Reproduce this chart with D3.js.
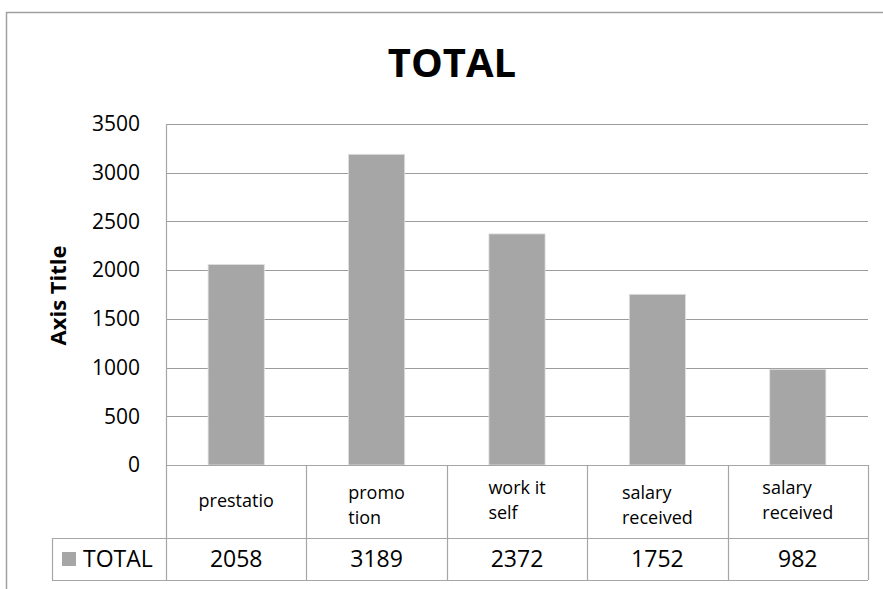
<!DOCTYPE html>
<html>
<head>
<meta charset="utf-8">
<script src="https://cdn.jsdelivr.net/npm/d3@7"></script>
<style>
  html, body { margin: 0; padding: 0; background: #fff; }
  svg { display: block; font-family: "Open Sans", sans-serif; }
</style>
</head>
<body>
<div id="chart"></div>
<script>
// chart data
var categoryLines = [["prestatio"], ["promo", "tion"], ["work it", "self"], ["salary", "received"], ["salary", "received"]];
var totals = [2058, 3189, 2372, 1752, 982];
var yTicks = [0, 500, 1000, 1500, 2000, 2500, 3000, 3500];
var seriesName = "TOTAL";

var W = 883, H = 589;
var plot = {left: 166, right: 868, top: 124, bottom: 465};
var rowBottom = 538, tableBottom = 580, legendLeft = 52;
var lineColor = "#a6a6a6", gridColor = "#9c9c9c", barColor = "#a6a6a6";
var labelShift = [0, 5, 0, 5, 0];

var svg = d3.select("#chart").append("svg")
    .attr("width", W)
    .attr("height", H);

// outer chart frame (top + left edges visible)
svg.append("path")
    .attr("d", "M6.5," + H + "V12.5H" + W)
    .attr("fill", "none")
    .attr("stroke", "#a0a0a0")
    .attr("stroke-width", 1.5);

svg.append("text")
    .attr("x", 452)
    .attr("y", 77)
    .attr("text-anchor", "middle")
    .style("font-size", "40px")
    .style("font-weight", "bold")
    .text("TOTAL");

var x = d3.scaleBand()
    .domain(d3.range(totals.length))
    .range([plot.left, plot.right])
    .padding(0);

var y = d3.scaleLinear()
    .domain([0, 3500])
    .range([plot.bottom, plot.top]);

// gridlines
svg.append("g")
    .selectAll("line")
    .data(yTicks)
    .join("line")
    .attr("x1", plot.left)
    .attr("x2", plot.right)
    .attr("y1", d => Math.round(y(d)) + 0.5)
    .attr("y2", d => Math.round(y(d)) + 0.5)
    .attr("stroke", gridColor)
    .attr("stroke-width", 1.2);

// y axis labels
var yAxis = svg.append("g")
    .attr("transform", "translate(" + plot.left + ",0)")
    .call(d3.axisLeft(y).tickValues(yTicks).tickFormat(d3.format("d")).tickSize(0).tickPadding(26));
yAxis.select(".domain").remove();
yAxis.selectAll("text")
    .style("font-family", "'Open Sans', sans-serif")
    .style("font-size", "21px")
    .attr("fill", "#000");

svg.append("text")
    .attr("transform", "translate(66," + ((plot.top + plot.bottom) / 2 + 1) + ") rotate(-90)")
    .attr("text-anchor", "middle")
    .style("font-size", "22px")
    .style("font-weight", "bold")
    .text("Axis Title");

// bars
svg.append("g")
    .selectAll("rect")
    .data(totals)
    .join("rect")
    .attr("x", (d, i) => x(i) + x.bandwidth() * 0.3)
    .attr("width", x.bandwidth() * 0.4)
    .attr("y", d => y(d))
    .attr("height", d => y(0) - y(d))
    .attr("fill", barColor)
    .attr("stroke", "#e0e0e0")
    .attr("stroke-width", 0.8);

// data table
var table = svg.append("g")
    .attr("stroke", lineColor)
    .attr("stroke-width", 1.2)
    .attr("fill", "none");

table.append("line").attr("x1", plot.left).attr("x2", plot.right).attr("y1", plot.bottom + 0.5).attr("y2", plot.bottom + 0.5);
table.append("line").attr("x1", legendLeft).attr("x2", plot.right).attr("y1", rowBottom + 0.5).attr("y2", rowBottom + 0.5);
table.append("line").attr("x1", legendLeft).attr("x2", plot.right).attr("y1", tableBottom + 0.5).attr("y2", tableBottom + 0.5);
table.append("line").attr("x1", plot.left + 0.5).attr("x2", plot.left + 0.5).attr("y1", plot.top).attr("y2", tableBottom);
table.append("line").attr("x1", legendLeft + 0.5).attr("x2", legendLeft + 0.5).attr("y1", rowBottom).attr("y2", tableBottom);
table.selectAll(".col")
    .data(d3.range(1, totals.length + 1))
    .join("line")
    .attr("x1", i => Math.round(plot.left + i * x.bandwidth()) + 0.5)
    .attr("x2", i => Math.round(plot.left + i * x.bandwidth()) + 0.5)
    .attr("y1", plot.bottom)
    .attr("y2", tableBottom);

// category labels (lines left aligned, block centred in cell)
var headerMid = (plot.bottom + rowBottom) / 2;
var lineGap = 25;
categoryLines.forEach(function(lines, i) {
    var g = svg.append("g");
    var texts = lines.map(function(t, k) {
        return g.append("text")
            .attr("y", headerMid + labelShift[i] + (k - (lines.length - 1) / 2) * lineGap + 5)
            .style("font-size", "18px")
            .text(t);
    });
    var blockW = d3.max(texts, t => t.node().getComputedTextLength());
    var left = x(i) + (x.bandwidth() - blockW) / 2;
    texts.forEach(t => t.attr("x", left));
});

// values row
svg.append("g")
    .selectAll("text")
    .data(totals)
    .join("text")
    .attr("x", (d, i) => x(i) + x.bandwidth() / 2)
    .attr("y", 567)
    .attr("text-anchor", "middle")
    .style("font-size", "23px")
    .text(d => d);

// legend key
svg.append("rect")
    .attr("x", 62)
    .attr("y", 552)
    .attr("width", 14)
    .attr("height", 14)
    .attr("fill", barColor);
svg.append("text")
    .attr("x", 83)
    .attr("y", 567)
    .style("font-size", "23px")
    .text(seriesName);
</script>
</body>
</html>
